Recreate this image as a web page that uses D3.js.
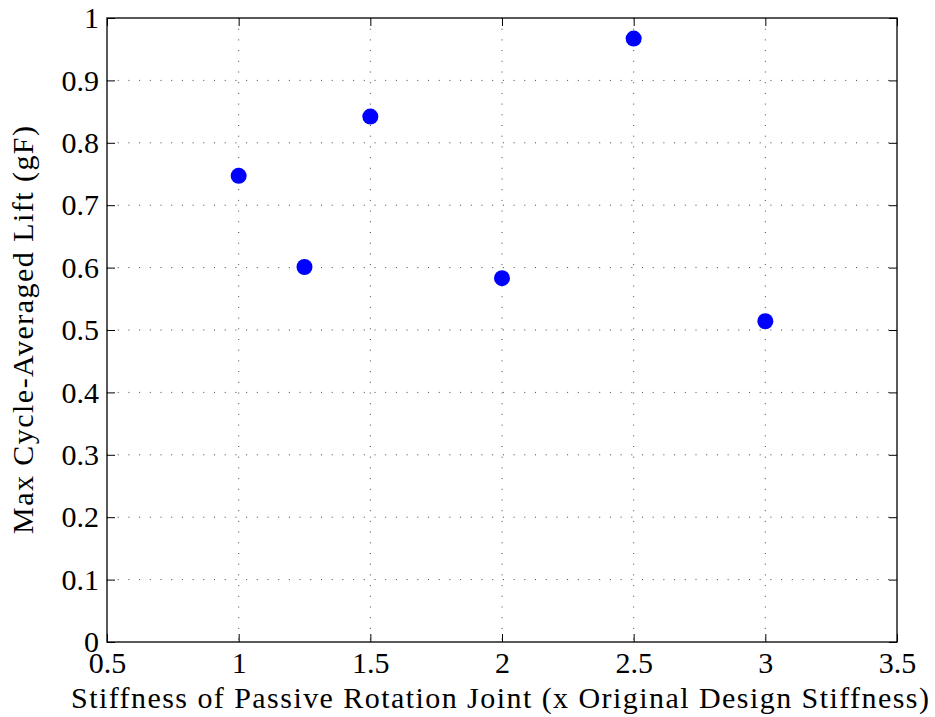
<!DOCTYPE html>
<html>
<head>
<meta charset="utf-8">
<script src="https://cdn.jsdelivr.net/npm/d3@7"></script>
<style>
  body { margin: 0; background: #fff; }
</style>
</head>
<body>
<svg width="935" height="717"></svg>
<script>
// stiffness multiples and measured lift
const stiffness = [1, 1.25, 1.5, 2, 2.5, 3];
const lift = [0.747, 0.601, 0.842, 0.583, 0.967, 0.514];
const xTicks = [0.5, 1, 1.5, 2, 2.5, 3, 3.5];
const yTicks = [0, 0.1, 0.2, 0.3, 0.4, 0.5, 0.6, 0.7, 0.8, 0.9, 1];

const FONT = "'Liberation Serif', 'DejaVu Serif', serif";

const svg = d3.select("svg");
const margin = { left: 107, top: 18, right: 38, bottom: 75 };
const width = +svg.attr("width");
const height = +svg.attr("height");
const innerWidth = width - margin.left - margin.right;
const innerHeight = height - margin.top - margin.bottom;

const x = d3.scaleLinear().domain([0.5, 3.5]).range([0, innerWidth]);
const y = d3.scaleLinear().domain([0, 1]).range([innerHeight, 0]);

const g = svg.append("g")
    .attr("transform", `translate(${margin.left}, ${margin.top})`);

// dotted grid
g.selectAll(".vgrid")
    .data(xTicks.slice(1, -1))
    .enter().append("line")
        .attr("x1", d => x(d)).attr("x2", d => x(d))
        .attr("y1", 0).attr("y2", innerHeight)
        .attr("stroke", "#444").attr("stroke-width", 1)
        .attr("stroke-dasharray", "1,9.7");

g.selectAll(".hgrid")
    .data(yTicks.slice(1, -1))
    .enter().append("line")
        .attr("x1", 0).attr("x2", innerWidth)
        .attr("y1", d => y(d)).attr("y2", d => y(d))
        .attr("stroke", "#444").attr("stroke-width", 1)
        .attr("stroke-dasharray", "1,9.7");

// axes with inward ticks
const fmt = d => String(d);
const style = sel => {
    sel.select(".domain").remove();
    sel.selectAll(".tick line").attr("stroke", "#000");
    sel.selectAll(".tick text")
        .style("font-family", FONT)
        .style("font-size", "30px")
        .style("fill", "#000");
};

g.append("g")
    .attr("transform", `translate(0, ${innerHeight})`)
    .call(d3.axisBottom(x).tickValues(xTicks).tickFormat(fmt).tickSizeInner(-8).tickPadding(10))
    .call(style);

g.append("g")
    .call(d3.axisTop(x).tickValues(xTicks).tickSizeInner(-8).tickFormat(""))
    .call(style);

g.append("g")
    .call(d3.axisLeft(y).tickValues(yTicks).tickFormat(fmt).tickSizeInner(-8).tickPadding(8))
    .call(style);

g.append("g")
    .attr("transform", `translate(${innerWidth}, 0)`)
    .call(d3.axisRight(y).tickValues(yTicks).tickSizeInner(-8).tickFormat(""))
    .call(style);

g.append("rect")
    .attr("width", innerWidth).attr("height", innerHeight)
    .attr("fill", "none").attr("stroke", "#000").attr("stroke-width", 1.3);

// points
g.selectAll("circle")
    .data(stiffness)
    .enter().append("circle")
        .attr("cx", d => x(d))
        .attr("cy", (d, i) => y(lift[i]))
        .attr("r", 8)
        .attr("fill", "#0000ff");

// labels
svg.append("text")
    .attr("x", 500)
    .attr("y", 708)
    .attr("text-anchor", "middle")
    .attr("textLength", 858)
    .attr("lengthAdjust", "spacing")
    .style("font-family", FONT)
    .style("font-size", "30px")
    .text("Stiffness of Passive Rotation Joint (x Original Design Stiffness)");

svg.append("text")
    .attr("transform", `translate(33, ${margin.top + innerHeight / 2}) rotate(-90)`)
    .attr("text-anchor", "middle")
    .attr("textLength", 408)
    .attr("lengthAdjust", "spacing")
    .style("font-family", FONT)
    .style("font-size", "30px")
    .text("Max Cycle-Averaged Lift (gF)");
</script>
</body>
</html>
